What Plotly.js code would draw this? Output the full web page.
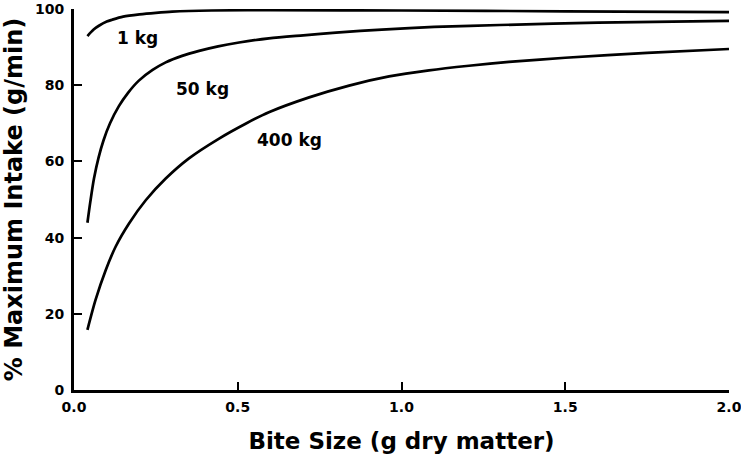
<!DOCTYPE html>
<html>
<head>
<meta charset="utf-8">
<script src="https://cdn.plot.ly/plotly-3.0.1.min.js"></script>
<style>html,body{margin:0;padding:0;background:#fff;}#chart{width:741px;height:474px;}</style>
</head>
<body>
<div id="chart"></div>
<script>
// Bite size (g dry matter) vs % maximum intake
const x1kg = [0.041, 0.06, 0.076, 0.10, 0.117, 0.15, 0.20, 0.25, 0.30, 0.42, 0.60, 1.00, 1.50, 2.00];
const y1kg = [92.9, 94.6, 95.6, 96.7, 97.2, 98.0, 98.6, 99.0, 99.3, 99.6, 99.7, 99.6, 99.4, 99.2];

const x50kg = [0.041, 0.05, 0.061, 0.075, 0.09, 0.11, 0.137, 0.165, 0.198, 0.24, 0.28, 0.33, 0.382, 0.44, 0.504, 0.595, 0.70, 0.80, 0.94, 1.10, 1.30, 1.60, 2.00];
const y50kg = [43.9, 49.5, 55.5, 61.0, 65.5, 70.0, 74.5, 78.0, 81.2, 84.0, 86.0, 87.7, 89.0, 90.2, 91.2, 92.3, 93.1, 93.8, 94.6, 95.3, 95.8, 96.4, 96.9];

const x400kg = [0.041, 0.066, 0.097, 0.127, 0.168, 0.219, 0.28, 0.351, 0.443, 0.524, 0.595, 0.718, 0.84, 0.962, 1.084, 1.206, 1.328, 1.50, 1.75, 2.00];
const y400kg = [15.8, 23.7, 31.5, 37.6, 43.7, 49.8, 55.5, 60.8, 66.0, 69.9, 72.9, 76.8, 79.9, 82.3, 83.9, 85.1, 86.1, 87.2, 88.5, 89.5];

const seriesLabels = ['1 kg', '50 kg', '400 kg'];
const labelX = [0.193, 0.393, 0.659];
const labelY = [92.4, 79.0, 65.6];

const xTicks = [0, 0.5, 1.0, 1.5, 2.0];
const xTickText = ['0.0', '0.5', '1.0', '1.5', '2.0'];
const yTicks = [0, 20, 40, 60, 80, 100];

const lineStyle = {color: '#000', width: 2.7, shape: 'spline', smoothing: 0.8};
const traces = [
  {x: x1kg, y: y1kg, mode: 'lines', line: lineStyle, name: seriesLabels[0]},
  {x: x50kg, y: y50kg, mode: 'lines', line: lineStyle, name: seriesLabels[1]},
  {x: x400kg, y: y400kg, mode: 'lines', line: lineStyle, name: seriesLabels[2]}
];

const fontFam = 'DejaVu Sans, Liberation Sans, Arial, sans-serif';
const annotations = seriesLabels.map((t, i) => ({
  x: labelX[i], y: labelY[i], xref: 'x', yref: 'y', text: t, showarrow: false,
  font: {family: fontFam, size: 17, color: '#000', weight: 'bold'}
}));

const layout = {
  width: 741, height: 474,
  margin: {l: 74, r: 12, t: 9, b: 84},
  paper_bgcolor: '#fff', plot_bgcolor: '#fff',
  showlegend: false,
  xaxis: {
    range: [0, 2.0], tickvals: xTicks, ticktext: xTickText,
    showgrid: false, zeroline: false, showline: true, linecolor: '#000', linewidth: 3,
    ticks: 'inside', ticklen: 8, tickwidth: 2, tickcolor: '#000',
    tickfont: {family: fontFam, size: 14, color: '#000', weight: 'bold'},
    ticklabelstandoff: 2, ticklabeloverflow: 'allow',
    title: {text: 'Bite Size (g dry matter)', font: {family: fontFam, size: 23, color: '#000', weight: 'bold'}, standoff: 20}
  },
  yaxis: {
    range: [0, 100], tickvals: yTicks,
    showgrid: false, zeroline: false, showline: true, linecolor: '#000', linewidth: 3,
    ticks: 'inside', ticklen: 8, tickwidth: 2, tickcolor: '#000',
    tickfont: {family: fontFam, size: 14, color: '#000', weight: 'bold'},
    ticklabelstandoff: 4, ticklabeloverflow: 'allow',
    title: {text: '% Maximum Intake (g/min)', font: {family: fontFam, size: 24, color: '#000', weight: 'bold'}, standoff: 10}
  },
  annotations: annotations
};

Plotly.newPlot('chart', traces, layout, {displayModeBar: false, staticPlot: true});
</script>
</body>
</html>
